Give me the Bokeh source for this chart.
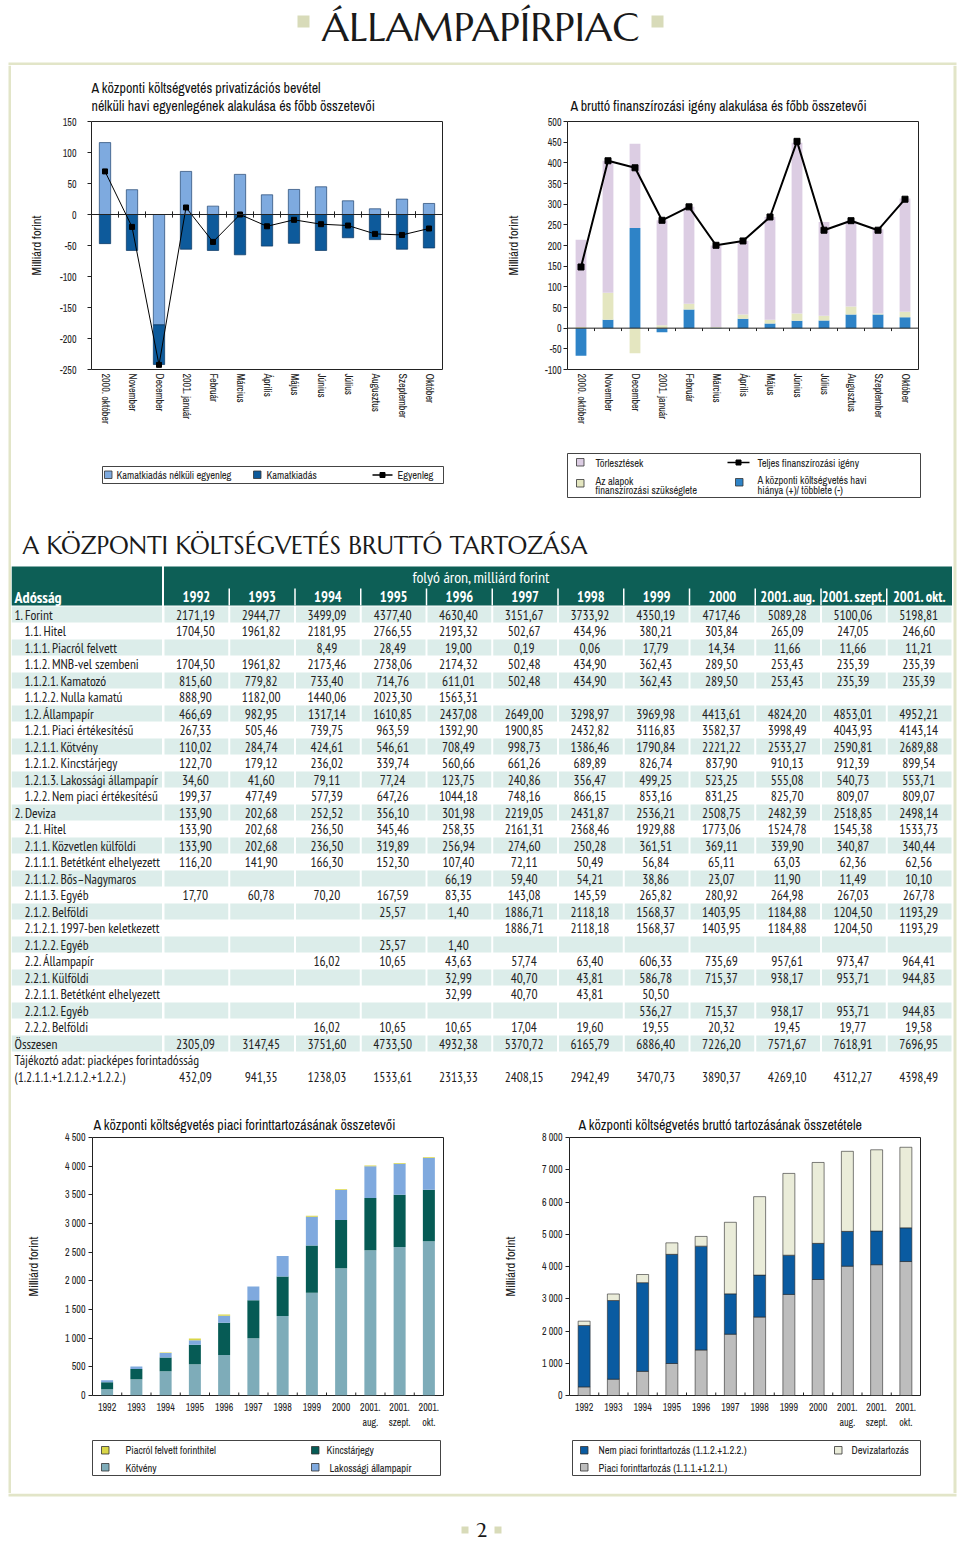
from bokeh.plotting import figure
from bokeh.models import FactorRange, Range1d, FixedTicker, Span, ColumnDataSource
from bokeh.layouts import column, row
from bokeh.transform import dodge
from bokeh.core.properties import value
from bokeh.embed import file_html
from bokeh.resources import INLINE

NARROW = "'Archivo Narrow', 'Roboto Condensed', sans-serif"
TFONT = "'PT Sans Narrow', 'Fira Sans Condensed', sans-serif"
SERIF = "Marcellus, 'Liberation Serif', serif"

# ---------------- top-left chart data ----------------
months = ["2000. október", "November", "December", "2001. január", "Február", "Március",
          "Április", "Május", "Június", "Július", "Augusztus", "Szeptember", "Október"]
primer_egyenleg = [116, 40, -178, 69.5, 13.5, 64.7, 31.8, 40.4, 44.7, 22.1, 9.2, 24.8, 17.8]
kamatkiadas = [-47, -58, -64, -56, -58, -65, -51, -46.5, -58, -37.5, -40.5, -56, -54]
egyenleg = [69.5, -20, -242.5, 11.3, -44.2, 0, -19, -8.6, -15.6, -17.8, -31.3, -33, -22.6]

# ---------------- top-right chart data ----------------
kv_hiany = [-67, 20.2, 242.6, -9.7, 45.3, 1, 22.6, 11.3, 17.8, 18.6, 33.2, 33.2, 26.7]
alapok = [3, 65.5, -60.6, 7, 13.7, 2, 10.5, 8.9, 17.8, 11.3, 19.4, 2.5, 12.9]
torlesztesek = [211, 319.5, 203.8, 254, 234.5, 197, 178, 249, 413, 227, 207, 203.5, 274]
teljes_igeny = [148, 405, 388, 261, 293.5, 200.5, 211, 269, 452, 237, 260, 237, 312]

# ---------------- table data ----------------
years_hdr = ["1992", "1993", "1994", "1995", "1996", "1997", "1998", "1999", "2000",
             "2001. aug.", "2001. szept.", "2001. okt."]
N = None
t_forint = [2171.19, 2944.77, 3499.09, 4377.40, 4630.40, 3151.67, 3733.92, 4350.19, 4717.46, 5089.28, 5100.06, 5198.81]
t_hitel = [1704.50, 1961.82, 2181.95, 2766.55, 2193.32, 502.67, 434.96, 380.21, 303.84, 265.09, 247.05, 246.60]
t_piacrol = [N, N, 8.49, 28.49, 19.00, 0.19, 0.06, 17.79, 14.34, 11.66, 11.66, 11.21]
t_mnb = [1704.50, 1961.82, 2173.46, 2738.06, 2174.32, 502.48, 434.90, 362.43, 289.50, 253.43, 235.39, 235.39]
t_kamatozo = [815.60, 779.82, 733.40, 714.76, 611.01, 502.48, 434.90, 362.43, 289.50, 253.43, 235.39, 235.39]
t_nulla = [888.90, 1182.00, 1440.06, 2023.30, 1563.31, N, N, N, N, N, N, N]
t_allampapir = [466.69, 982.95, 1317.14, 1610.85, 2437.08, 2649.00, 3298.97, 3969.98, 4413.61, 4824.20, 4853.01, 4952.21]
t_piaci_ert = [267.33, 505.46, 739.75, 963.59, 1392.90, 1900.85, 2432.82, 3116.83, 3582.37, 3998.49, 4043.93, 4143.14]
t_kotveny = [110.02, 284.74, 424.61, 546.61, 708.49, 998.73, 1386.46, 1790.84, 2221.22, 2533.27, 2590.81, 2689.88]
t_kincstar = [122.70, 179.12, 236.02, 339.74, 560.66, 661.26, 689.89, 826.74, 837.90, 910.13, 912.39, 899.54]
t_lakossagi = [34.60, 41.60, 79.11, 77.24, 123.75, 240.86, 356.47, 499.25, 523.25, 555.08, 540.73, 553.71]
t_nem_piaci = [199.37, 477.49, 577.39, 647.26, 1044.18, 748.16, 866.15, 853.16, 831.25, 825.70, 809.07, 809.07]
t_deviza = [133.90, 202.68, 252.52, 356.10, 301.98, 2219.05, 2431.87, 2536.21, 2508.75, 2482.39, 2518.85, 2498.14]
t_dev_hitel = [133.90, 202.68, 236.50, 345.46, 258.35, 2161.31, 2368.46, 1929.88, 1773.06, 1524.78, 1545.38, 1533.73]
t_kozvetlen = [133.90, 202.68, 236.50, 319.89, 256.94, 274.60, 250.28, 361.51, 369.11, 339.90, 340.87, 340.44]
t_betet1 = [116.20, 141.90, 166.30, 152.30, 107.40, 72.11, 50.49, 56.84, 65.11, 63.03, 62.36, 62.56]
t_bos = [N, N, N, N, 66.19, 59.40, 54.21, 38.86, 23.07, 11.90, 11.49, 10.10]
t_egyeb1 = [17.70, 60.78, 70.20, 167.59, 83.35, 143.08, 145.59, 265.82, 280.92, 264.98, 267.03, 267.78]
t_belfoldi1 = [N, N, N, 25.57, 1.40, 1886.71, 2118.18, 1568.37, 1403.95, 1184.88, 1204.50, 1193.29]
t_1997 = [N, N, N, N, N, 1886.71, 2118.18, 1568.37, 1403.95, 1184.88, 1204.50, 1193.29]
t_egyeb2 = [N, N, N, 25.57, 1.40, N, N, N, N, N, N, N]
t_dev_allampapir = [N, N, 16.02, 10.65, 43.63, 57.74, 63.40, 606.33, 735.69, 957.61, 973.47, 964.41]
t_kulfoldi = [N, N, N, N, 32.99, 40.70, 43.81, 586.78, 715.37, 938.17, 953.71, 944.83]
t_betet2 = [N, N, N, N, 32.99, 40.70, 43.81, 50.50, N, N, N, N]
t_egyeb3 = [N, N, N, N, N, N, N, 536.27, 715.37, 938.17, 953.71, 944.83]
t_belfoldi2 = [N, N, 16.02, 10.65, 10.65, 17.04, 19.60, 19.55, 20.32, 19.45, 19.77, 19.58]
t_osszesen = [2305.09, 3147.45, 3751.60, 4733.50, 4932.38, 5370.72, 6165.79, 6886.40, 7226.20, 7571.67, 7618.91, 7696.95]
t_piackepes = [432.09, 941.35, 1238.03, 1533.61, 2313.33, 2408.15, 2942.49, 3470.73, 3890.37, 4269.10, 4312.27, 4398.49]

table_rows = [
    ("1. Forint", 0, t_forint), ("1.1. Hitel", 1, t_hitel),
    ("1.1.1. Piacról felvett", 1, t_piacrol), ("1.1.2. MNB-vel szembeni", 1, t_mnb),
    ("1.1.2.1. Kamatozó", 1, t_kamatozo), ("1.1.2.2. Nulla kamatú", 1, t_nulla),
    ("1.2. Állampapír", 1, t_allampapir), ("1.2.1. Piaci értékesítésű", 1, t_piaci_ert),
    ("1.2.1.1. Kötvény", 1, t_kotveny), ("1.2.1.2. Kincstárjegy", 1, t_kincstar),
    ("1.2.1.3. Lakossági állampapír", 1, t_lakossagi), ("1.2.2. Nem piaci értékesítésű", 1, t_nem_piaci),
    ("2. Deviza", 0, t_deviza), ("2.1. Hitel", 1, t_dev_hitel),
    ("2.1.1. Közvetlen külföldi", 1, t_kozvetlen), ("2.1.1.1. Betétként elhelyezett", 1, t_betet1),
    ("2.1.1.2. Bős–Nagymaros", 1, t_bos), ("2.1.1.3. Egyéb", 1, t_egyeb1),
    ("2.1.2. Belföldi", 1, t_belfoldi1), ("2.1.2.1. 1997-ben keletkezett", 1, t_1997),
    ("2.1.2.2. Egyéb", 1, t_egyeb2), ("2.2. Állampapír", 1, t_dev_allampapir),
    ("2.2.1. Külföldi", 1, t_kulfoldi), ("2.2.1.1. Betétként elhelyezett", 1, t_betet2),
    ("2.2.1.2. Egyéb", 1, t_egyeb3), ("2.2.2. Belföldi", 1, t_belfoldi2),
    ("Összesen", 0, t_osszesen), ("Tájékoztó adat: piacképes forintadósság", 0, [N] * 12),
    ("(1.2.1.1.+1.2.1.2.+1.2.2.)", 0, t_piackepes),
]

# ---------------- bottom charts data ----------------
bar_years = ["1992", "1993", "1994", "1995", "1996", "1997", "1998", "1999", "2000",
             "2001.\naug.", "2001.\nszept.", "2001.\nokt."]
piacrol_hitel = [0, 0, 8.49, 28.49, 19.00, 0.19, 0.06, 17.79, 14.34, 11.66, 11.66, 11.21]
piaci_forint = [267.33, 505.46, 748.24, 992.08, 1411.90, 1901.04, 2432.88, 3134.62, 3596.71, 4010.15, 4055.59, 4154.35]
nem_piaci_forint = [1903.87, 2439.31, 2750.85, 3385.32, 3218.50, 1250.64, 1301.05, 1215.59, 1120.75, 1079.13, 1044.46, 1044.46]

# ---------------- colours ----------------
C_LB, C_DB = "#7eaadf", "#0d5a9b"
C_PINK, C_YEL, C_BLUE = "#dccde3", "#e4e6c0", "#2e83c7"
C_KOT, C_KIN, C_LAK, C_PIAC = "#7eacb9", "#065b55", "#7fa9de", "#d9d648"
C_GRAY, C_NEM, C_DEV = "#bdbdbd", "#0a5ba1", "#eaecd9"
TEAL, ZEBRA, FRAME, SQ = "#0d5f56", "#dcedea", "#e2e5c8", "#d8dbb9"
INK = "#222222"


def canvas(w, h):
    p = figure(width=w, height=h, x_range=Range1d(0, w), y_range=Range1d(h, 0),
               output_backend="svg", toolbar_location=None, min_border=0,
               x_axis_location=None, y_axis_location=None)
    p.outline_line_color = None
    p.grid.visible = False
    p.background_fill_color = "white"
    p.border_fill_color = "white"
    return p


def txt(p, xs, ys, ts, size="10.5px", font=NARROW, color=INK, align="left",
        baseline="middle", style="normal"):
    src = ColumnDataSource(dict(x=xs, y=ys, t=ts))
    p.text(x="x", y="y", text="t", source=src, text_font=value(font),
           text_font_size=value(size), text_color=color, text_align=align,
           text_baseline=baseline, text_font_style=style)


def box(p, l, r, t, b, fill, line=None, lw=1):
    p.quad(left=[l], right=[r], top=[t], bottom=[b], fill_color=fill,
           line_color=line, line_width=lw)


def style_title(t, offset=0, standoff=2):
    t.text_font = NARROW
    t.text_font_size = "14px"
    t.text_font_style = "normal"
    t.text_color = "#111111"
    t.align = "left"
    t.offset = offset
    t.standoff = standoff


def style_chart(p, yticks, overrides, tick_standoff=3, label_standoff=20):
    p.outline_line_color = INK
    p.outline_line_width = 1
    p.xgrid.visible = False
    p.ygrid.visible = False
    p.background_fill_color = "white"
    p.border_fill_color = "white"
    ya = p.yaxis[0]
    ya.ticker = FixedTicker(ticks=yticks)
    ya.major_label_overrides = overrides
    ya.axis_line_color = None
    ya.major_tick_out = 4
    ya.major_tick_in = 0
    ya.major_tick_line_color = INK
    ya.minor_tick_line_color = None
    ya.major_label_text_font = NARROW
    ya.major_label_text_font_size = "10px"
    ya.major_label_text_color = INK
    ya.major_label_standoff = tick_standoff
    ya.axis_label = "Milliárd forint"
    ya.axis_label_text_font = NARROW
    ya.axis_label_text_font_size = "12.5px"
    ya.axis_label_text_font_style = "normal"
    ya.axis_label_text_color = INK
    ya.axis_label_standoff = label_standoff
    xa = p.xaxis[0]
    xa.axis_line_color = None
    xa.major_tick_line_color = None
    xa.major_tick_out = 0
    xa.major_tick_in = 0
    xa.minor_tick_line_color = None
    xa.major_label_text_font = NARROW
    xa.major_label_text_font_size = "10px"
    xa.major_label_text_color = INK


def plain(vals):
    return {v: str(v) for v in vals}


def thousands(vals):
    return {v: (f"{v:,}".replace(",", " ")) for v in vals}


def excel_stack(*series):
    n = len(series[0])
    pos, neg, out = [0.0] * n, [0.0] * n, []
    for s in series:
        b, t = [], []
        for i, v in enumerate(s):
            if v >= 0:
                b.append(pos[i]); t.append(pos[i] + v); pos[i] += v
            else:
                b.append(neg[i]); t.append(neg[i] + v); neg[i] += v
        out.append((b, t))
    return out


def boundary_ticks(p, cats, y0, y1):
    src = ColumnDataSource(dict(m=cats[1:], y0=[y0] * (len(cats) - 1), y1=[y1] * (len(cats) - 1)))
    xd = dodge("m", -0.5, range=p.x_range)
    p.segment(x0=xd, x1=xd, y0="y0", y1="y1", source=src, line_color=INK, line_width=1)


# ---------------- top-left chart ----------------
def top_left():
    p = figure(width=469, height=375, x_range=FactorRange(factors=months),
               y_range=Range1d(-250, 150), output_backend="svg", toolbar_location=None,
               min_border_left=80, min_border_right=38, min_border_top=56, min_border_bottom=71,
               title="A központi költségvetés privatizációs bevétel\nnélküli havi egyenlegének alakulása és főbb összetevői")
    style_title(p.title, standoff=14)
    ticks = list(range(-250, 151, 50))
    style_chart(p, ticks, plain(ticks), tick_standoff=11, label_standoff=12)
    p.xaxis.major_label_orientation = "vertical"
    p.xaxis.major_label_standoff = 4
    (b1, t1), (b2, tt2) = excel_stack(primer_egyenleg, kamatkiadas)
    src = ColumnDataSource(dict(m=months, b1=b1, t1=t1, b2=b2, t2=tt2, eg=egyenleg))
    p.vbar(x="m", bottom="b1", top="t1", width=0.42, source=src, fill_color=C_LB,
           line_color="#1f4470", line_width=0.7)
    p.vbar(x="m", bottom="b2", top="t2", width=0.42, source=src, fill_color=C_DB,
           line_color="#0a3560", line_width=0.7)
    p.add_layout(Span(location=0, dimension="width", line_color=INK, line_width=1))
    boundary_ticks(p, months + [months[-1]], -5, 5)
    p.line(x="m", y="eg", source=src, line_color="black", line_width=1)
    p.scatter(x="m", y="eg", source=src, marker="square", size=5, color="black")
    return p


# ---------------- top-right chart ----------------
def top_right():
    p = figure(width=472, height=375, x_range=FactorRange(factors=months),
               y_range=Range1d(-100, 500), output_backend="svg", toolbar_location=None,
               min_border_left=87, min_border_right=34, min_border_top=56, min_border_bottom=71,
               title="A bruttó finanszírozási igény alakulása és főbb összetevői")
    style_title(p.title, offset=3, standoff=14)
    ticks = list(range(-100, 501, 50))
    style_chart(p, ticks, plain(ticks), tick_standoff=2, label_standoff=20)
    p.xaxis.major_label_orientation = "vertical"
    p.xaxis.major_label_standoff = 4
    (b1, t1), (b2, t2), (b3, t3) = excel_stack(kv_hiany, alapok, torlesztesek)
    src = ColumnDataSource(dict(m=months, b1=b1, t1=t1, b2=b2, t2=t2, b3=b3, t3=t3, tj=teljes_igeny))
    p.vbar(x="m", bottom="b1", top="t1", width=0.4, source=src, fill_color=C_BLUE, line_color=None)
    p.vbar(x="m", bottom="b2", top="t2", width=0.4, source=src, fill_color=C_YEL, line_color=None)
    p.vbar(x="m", bottom="b3", top="t3", width=0.4, source=src, fill_color=C_PINK, line_color=None)
    p.add_layout(Span(location=0, dimension="width", line_color=INK, line_width=1))
    boundary_ticks(p, months + [months[-1]], 0, -7)
    p.line(x="m", y="tj", source=src, line_color="black", line_width=2)
    p.scatter(x="m", y="tj", source=src, marker="square", size=6, color="black")
    return p


# ---------------- bottom charts ----------------
def bottom_left():
    p = figure(width=469, height=340, x_range=FactorRange(factors=bar_years),
               y_range=Range1d(0, 4500), output_backend="svg", toolbar_location=None,
               min_border_left=81, min_border_right=37, min_border_top=45, min_border_bottom=37,
               title="A központi költségvetés piaci forinttartozásának összetevői")
    style_title(p.title, offset=1, standoff=8)
    ticks = list(range(0, 4501, 500))
    style_chart(p, ticks, thousands(ticks), tick_standoff=3, label_standoff=20)
    p.xaxis.major_label_standoff = 5
    src = ColumnDataSource(dict(y=bar_years, kot=t_kotveny, kin=t_kincstar, lak=t_lakossagi, pia=piacrol_hitel))
    p.vbar_stack(["kot", "kin", "lak", "pia"], x="y", width=0.41, source=src,
                 color=[C_KOT, C_KIN, C_LAK, C_PIAC], line_color=None)
    boundary_ticks(p, bar_years, 0, 52)
    return p


def bottom_right():
    p = figure(width=472, height=340, x_range=FactorRange(factors=bar_years),
               y_range=Range1d(0, 8000), output_backend="svg", toolbar_location=None,
               min_border_left=89, min_border_right=32, min_border_top=45, min_border_bottom=37,
               title="A központi költségvetés bruttó tartozásának összetétele")
    style_title(p.title, offset=9, standoff=8)
    ticks = list(range(0, 8001, 1000))
    style_chart(p, ticks, thousands(ticks), tick_standoff=3, label_standoff=20)
    p.xaxis.major_label_standoff = 5
    src = ColumnDataSource(dict(y=bar_years, pf=piaci_forint, npf=nem_piaci_forint, dv=t_deviza))
    p.vbar_stack(["pf", "npf", "dv"], x="y", width=0.41, source=src,
                 fill_color=[C_GRAY, C_NEM, C_DEV], line_color="#2a2a2a", line_width=0.6)
    boundary_ticks(p, bar_years, 0, 93)
    return p


# ---------------- legends ----------------
def swatch(p, x, y, fill, size=7.5):
    box(p, x, x + size, y, y + size, fill, line="#333333", lw=0.8)


def line_marker(p, x0, x1, y):
    p.segment(x0=[x0], x1=[x1], y0=[y], y1=[y], line_color="black", line_width=1.5)
    p.scatter(x=[(x0 + x1) / 2], y=[y], marker="square", size=5, color="black")


def legend_top():
    p = canvas(941, 70)
    box(p, 91, 432, 26, 43, "white", line="#444444", lw=1)
    swatch(p, 93, 30.5, C_LB)
    swatch(p, 242, 30.5, C_DB)
    line_marker(p, 361, 381, 34.5)
    txt(p, [105, 255, 386], [34.5] * 3, ["Kamatkiadás nélküli egyenleg", "Kamatkiadás", "Egyenleg"])
    box(p, 556, 909, 13, 57, "white", line="#444444", lw=1)
    swatch(p, 565, 18, C_PINK)
    swatch(p, 565, 39, C_YEL)
    line_marker(p, 716, 738, 22)
    swatch(p, 724, 38, C_BLUE)
    txt(p, [584, 584, 584, 746, 746, 746], [22, 40, 49.5, 22, 39.5, 49.5],
        ["Törlesztések", "Az alapok", "finanszírozási szükséglete", "Teljes finanszírozási igény",
         "A központi költségvetés havi", "hiánya (+)/ többlete (-)"])
    return p


def legend_bottom():
    p = canvas(941, 61)
    box(p, 81, 429, 8, 43, "white", line="#444444", lw=1)
    swatch(p, 90, 14, C_PIAC)
    swatch(p, 90, 31, C_KOT)
    swatch(p, 300, 14, C_KIN)
    swatch(p, 300, 31, C_LAK)
    txt(p, [114, 114, 315, 318], [17.5, 35, 17.5, 35],
        ["Piacról felvett forinthitel", "Kötvény", "Kincstárjegy", "Lakossági állampapír"])
    box(p, 561, 909, 8, 43, "white", line="#444444", lw=1)
    swatch(p, 569, 14, C_NEM)
    swatch(p, 569, 31, C_GRAY)
    swatch(p, 823, 14, C_DEV)
    txt(p, [587, 587, 840], [17.5, 35, 17.5],
        ["Nem piaci forinttartozás (1.1.2.+1.2.2.)", "Piaci forinttartozás (1.1.1.+1.2.1.)", "Devizatartozás"])
    return p


# ---------------- table ----------------
def fmt(v):
    return "" if v is None else f"{v:.2f}".replace(".", ",")


def table():
    W, H = 941, 582
    p = canvas(W, H)
    colw = (W - 152) / 12.0
    left = [152 + colw * k for k in range(12)]
    txt(p, [11], [35], ["A KÖZPONTI KÖLTSÉGVETÉS BRUTTÓ TARTOZÁSA"], size="24.5px", font=SERIF,
        color="#1a1a1a")
    box(p, 0, 150.5, 56, 95, TEAL)
    box(p, 152.5, W, 56, 95, TEAL)
    p.segment(x0=left[1:], x1=left[1:], y0=[78] * 11, y1=[95] * 11, line_color="white", line_width=1.5)
    txt(p, [470], [66], ["folyó áron, milliárd forint"], size="16px", font=TFONT, color="white", align="center")
    txt(p, [3], [86], ["Adósság"], size="16px", font=TFONT, color="white", style="bold")
    txt(p, [l + colw / 2 for l in left], [86] * 12, years_hdr, size="14.5px", font=TFONT, color="white",
        align="center", style="bold")
    rh = 16.5
    ql, qr, qt, qb = [], [], [], []
    lx, ly, lt = [], [], []
    nx, ny, nt = [], [], []
    for i, (label, lvl, vals) in enumerate(table_rows):
        top = 96 + rh * i
        cy = top + rh / 2
        if i % 2 == 0 and i <= 26:
            ql.append(0); qr.append(150.5); qt.append(top); qb.append(top + rh - 0.5)
            for l in left:
                ql.append(l + 1); qr.append(l + colw - 1); qt.append(top); qb.append(top + rh - 0.5)
        lx.append(3 if lvl == 0 else 13); ly.append(cy); lt.append(label)
        for k, v in enumerate(vals):
            if v is not None:
                nx.append(left[k] + colw / 2 - 1); ny.append(cy); nt.append(fmt(v))
    p.quad(left=ql, right=qr, top=qt, bottom=qb, fill_color=ZEBRA, line_color=None)
    txt(p, lx, ly, lt, size="13.5px", font=TFONT)
    txt(p, nx, ny, nt, size="13.5px", font=TFONT, align="center")
    return p


# ---------------- page furniture ----------------
def header():
    p = canvas(960, 65)
    box(p, 297, 309, 15, 27, SQ)
    box(p, 651, 663, 15, 27, SQ)
    txt(p, [480], [26], ["ÁLLAMPAPÍRPIAC"], size="40px", font=SERIF, color="#1a1a1a",
        align="center")
    box(p, 8, 956, 62, 65, FRAME)
    return p


def footer():
    p = canvas(960, 52)
    box(p, 8, 956, 0, 3, FRAME)
    box(p, 461, 468, 33, 40, SQ)
    box(p, 494, 501, 33, 40, SQ)
    txt(p, [481], [36], ["2"], size="20px", font=SERIF, color="#1a1a1a", align="center")
    return p


def strip(w, x0, h):
    p = canvas(w, h)
    box(p, x0, x0 + 3, 0, h, FRAME)
    return p


mid = column(
    row(top_left(), top_right()),
    legend_top(),
    table(),
    row(bottom_left(), bottom_right()),
    legend_bottom(),
)
page = column(header(), row(strip(11, 8, 1428), mid, strip(8, 1, 1428)), footer())

open("out.html", "w").write(file_html(page, INLINE))
